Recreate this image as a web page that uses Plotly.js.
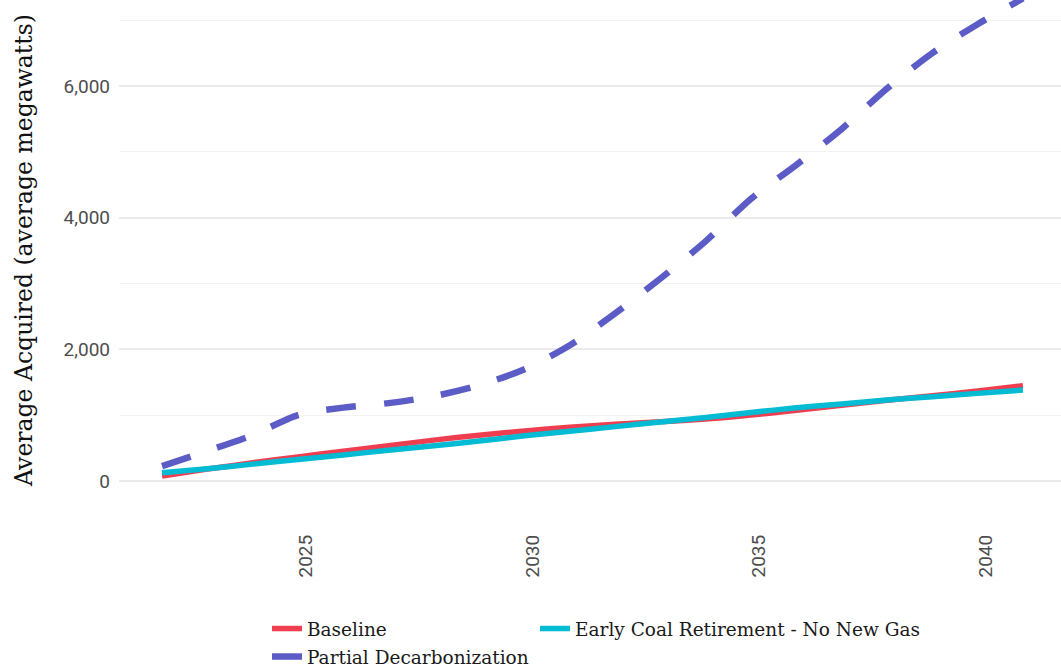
<!DOCTYPE html>
<html>
<head>
<meta charset="utf-8">
<script src="https://cdn.plot.ly/plotly-3.0.1.min.js"></script>
<style>
html,body{margin:0;padding:0;overflow:hidden;background:#fff;}
#chart{width:1066px;height:671px;}
</style>
</head>
<body>
<div id="chart"></div>
<script>
const years = [2022,2023,2024,2025,2026,2027,2028,2029,2030,2031,2032,2033,2034,2035,2036,2037,2038,2039,2040,2041];
const baseline = [75,180,275,365,450,535,620,695,760,815,860,900,940,1000,1075,1150,1225,1295,1365,1445];
const earlyCoal = [125,185,255,325,395,465,535,605,685,755,825,895,965,1040,1110,1170,1230,1280,1330,1380];
const partialDecarb = [225,455,697,1000,1114,1182,1288,1455,1697,2060,2545,3076,3644,4288,4803,5348,5962,6500,6939,7330];
const seriesNames = ["Baseline","Early Coal Retirement - No New Gas","Partial Decarbonization"];
const yTickVals = [0,2000,4000,6000];
const xTickVals = [2025,2030,2035,2040];

const slab = "'DejaVu Serif',serif";
const legendFont = {family:slab, size:18.5, color:"#1a1a1a"};

const traces = [
  {x:years, y:baseline, name:seriesNames[0], type:'scatter', mode:'lines',
   line:{color:'#EF3E50', width:5.5, shape:'spline', smoothing:0.6}, legend:'legend'},
  {x:years, y:earlyCoal, name:seriesNames[1], type:'scatter', mode:'lines',
   line:{color:'#03BCD4', width:5.5, shape:'spline', smoothing:0.6}, legend:'legend2'},
  {x:years, y:partialDecarb, name:seriesNames[2], type:'scatter', mode:'lines',
   line:{color:'#5C5CC6', width:6.5, dash:'30px,28px', shape:'spline', smoothing:0.8}, legend:'legend3'}
];

const W = 1066, H = 671;
function lg(px, py){
  return {orientation:'h', xref:'container', yref:'container', x:px/W, y:1-py/H,
          xanchor:'left', yanchor:'middle', font:legendFont, bgcolor:'rgba(0,0,0,0)', borderwidth:0};
}

const layout = {
  width:W, height:H,
  margin:{l:119, r:0, t:0, b:171},
  paper_bgcolor:'#fff', plot_bgcolor:'#fff',
  showlegend:true,
  legend:lg(267,629),
  legend2:lg(535,629),
  legend3:lg(267,657),
  xaxis:{range:[2021.05,2041.95], tickvals:xTickVals, ticktext:xTickVals.map(String),
         tickangle:-90, showgrid:false, zeroline:false, showline:false, ticks:'',
         tickfont:{family:'Roboto', size:19, color:'#4d4d4d'},
         ticklabelstandoff:30, ticklabelshift:8},
  yaxis:{range:[-290,7307], tickvals:yTickVals, tickformat:',d', showgrid:true,
         gridcolor:'#EBEBEB', gridwidth:2, zeroline:false, showline:false, ticks:'',
         tickfont:{family:'Roboto', size:19, color:'#4d4d4d'}, ticklabelstandoff:8,
         minor:{dtick:1000, tick0:0, showgrid:true, gridcolor:'#F3F3F3', gridwidth:1, ticks:''},
         title:{text:'Average Acquired (average megawatts)', standoff:24,
                font:{family:slab, size:23.5, color:'#111111'}}}
};

Plotly.newPlot('chart', traces, layout, {displayModeBar:false, staticPlot:true});
</script>
</body>
</html>
